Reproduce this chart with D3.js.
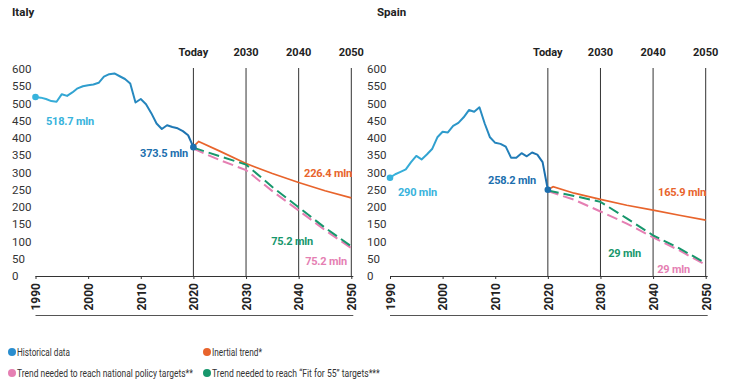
<!DOCTYPE html>
<html>
<head>
<meta charset="utf-8">
<script src="https://cdn.jsdelivr.net/npm/d3@7"></script>
<style>
    body { margin: 0; background: #fff; }
    svg { font-family: Roboto, "Noto Sans", sans-serif; }
</style>
</head>
<body>
<svg id="chart" width="731" height="385"></svg>
<script>
/* Chart values. */
const histYears = [1990, 1991, 1992, 1993, 1994, 1995, 1996, 1997, 1998, 1999, 2000, 2001, 2002, 2003, 2004, 2005,
    2006, 2007, 2008, 2009, 2010, 2011, 2012, 2013, 2014, 2015, 2016, 2017, 2018, 2019, 2020];
const italyHist = [518.7, 517, 513, 507, 505, 527, 522, 532, 544, 550, 553, 555, 560, 578, 585, 587,
    579, 571, 558, 503, 513, 498, 472, 442, 426, 437, 432, 428, 420, 408, 373.5];
const spainHist = [285, 295, 302, 309, 330, 348, 338, 352, 368, 402, 418, 416, 435, 444, 460, 481,
    476, 489, 442, 402, 386, 383, 375, 343, 343, 356, 347, 358, 352, 330, 250];

const inertialYears = [2020, 2021, 2025, 2030, 2035, 2040, 2045, 2050];
const italyInertial = [375, 390, 362, 326, 297, 271, 247, 226.4];
const spainInertial = [250, 259, 240, 222, 205, 191, 176, 162];

const targetYears = [2020, 2025, 2030, 2035, 2040, 2045, 2050];
const italyFit55 = [372, 347, 323, 258, 199, 140, 86];
const italyNational = [369, 336, 307, 246, 190, 133, 81];
const spainFit55 = [248, 232, 215, 167, 118, 80, 37];
const spainNational = [246, 221, 187, 152, 112, 74, 32];

const yTicks = [0, 50, 100, 150, 200, 250, 300, 350, 400, 450, 500, 550, 600];
const yearTicks = [1990, 2000, 2010, 2020, 2030, 2040, 2050];
const markerYears = [2020, 2030, 2040, 2050];
const markerNames = ['Today', '2030', '2040', '2050'];

const charts = [
    {name: 'Italy', hist: italyHist, inertial: italyInertial, fit55: italyFit55, national: italyNational,
        labels: ['518.7 mln', '373.5 mln', '226.4 mln', '75.2 mln', '75.2 mln']},
    {name: 'Spain', hist: spainHist, inertial: spainInertial, fit55: spainFit55, national: spainNational,
        labels: ['290 mln', '258.2 mln', '165.9 mln', '29 mln', '29 mln']}
];

const legendItems = [
    {text: 'Historical data', color: '#2a8dce', len: 53},
    {text: 'Inertial trend*', color: '#e8642c', len: 50},
    {text: 'Trend needed to reach national policy targets**', color: '#e57fb3', len: 176},
    {text: 'Trend needed to reach \u201cFit for 55\u201d targets***', color: '#17976c', len: 168}
];

/* Layout. */
const colors = {cyan: '#38b3dc', blue: '#1c6fae', orange: '#e8642c', green: '#17976c', pink: '#e57fb3', ink: '#222'};
const panels = [
    {left: 12, x0: 35.5, x1: 351.3},
    {left: 367, x0: 390, x1: 705.7}
];
const yTop = 69, yBase = 276;

const svg = d3.select('#chart');
const defs = svg.append('defs');

charts.forEach(function (c, i) {
    const p = panels[i];
    const g = svg.append('g');

    const x = d3.scaleLinear().domain([1990, 2050]).range([p.x0, p.x1]);
    const y = d3.scaleLinear().domain([0, 600]).range([yBase, yTop]);

    // Title.
    g.append('text').attr('x', i === 0 ? 12 : 377).attr('y', 16)
        .attr('font-size', 11.5).attr('font-weight', 700).attr('fill', colors.ink).text(c.name);

    // Y axis labels.
    const ya = g.append('g').attr('transform', 'translate(' + p.left + ',0)')
        .call(d3.axisLeft(y).tickValues(yTicks).tickSize(0));
    ya.select('.domain').remove();
    ya.selectAll('text').attr('x', 0).attr('text-anchor', 'start')
        .attr('font-size', 11.5).attr('font-family', 'Roboto, sans-serif').attr('fill', '#333');

    // Vertical markers and headers.
    g.selectAll('.marker').data(markerYears).enter().append('line')
        .attr('x1', d => x(d)).attr('x2', d => x(d))
        .attr('y1', yTop - 1).attr('y2', yBase)
        .attr('stroke', '#333').attr('stroke-width', 1);
    g.selectAll('.header').data(markerYears).enter().append('text')
        .attr('x', d => x(d)).attr('y', 56).attr('text-anchor', 'middle')
        .attr('font-size', 11).attr('font-weight', 700).attr('fill', colors.ink)
        .text((d, k) => markerNames[k]);

    // X axis.
    const xa = g.append('g').attr('transform', 'translate(0,' + yBase + ')')
        .call(d3.axisBottom(x).tickValues(yearTicks).tickSize(3).tickSizeOuter(0).tickFormat(d3.format('d')));
    xa.select('.domain').attr('stroke', '#333').attr('d', 'M' + p.x0 + ',0.5H' + (p.x1 + 2));
    xa.selectAll('.tick line').attr('stroke', '#333');
    xa.selectAll('text')
        .attr('transform', 'rotate(-90)').attr('text-anchor', 'end')
        .attr('x', -7).attr('y', 0).attr('dy', '0.36em')
        .attr('font-size', 12).attr('font-weight', 700).attr('font-family', 'Roboto, sans-serif').attr('fill', colors.ink);

    g.append('line').attr('x1', p.x0).attr('x2', p.x1 + 2).attr('y1', 315.5).attr('y2', 315.5)
        .attr('stroke', '#555').attr('stroke-width', 1);

    // Historical line with gradient.
    const gradId = 'hist' + i;
    const grad = defs.append('linearGradient').attr('id', gradId)
        .attr('gradientUnits', 'userSpaceOnUse')
        .attr('x1', x(1990)).attr('x2', x(2020)).attr('y1', 0).attr('y2', 0);
    grad.append('stop').attr('offset', 0).attr('stop-color', colors.cyan);
    grad.append('stop').attr('offset', 1).attr('stop-color', colors.blue);

    const line = d3.line().x(d => x(d[0])).y(d => y(d[1]));

    g.append('path').datum(d3.zip(histYears, c.hist)).attr('d', line)
        .attr('fill', 'none').attr('stroke', 'url(#' + gradId + ')').attr('stroke-width', 2)
        .attr('stroke-linejoin', 'round');

    g.append('path').datum(d3.zip(inertialYears, c.inertial)).attr('d', line)
        .attr('fill', 'none').attr('stroke', colors.orange).attr('stroke-width', 1.7);
    g.append('path').datum(d3.zip(targetYears, c.national)).attr('d', line)
        .attr('fill', 'none').attr('stroke', colors.pink).attr('stroke-width', 2)
        .attr('stroke-dasharray', '11,5');
    g.append('path').datum(d3.zip(targetYears, c.fit55)).attr('d', line)
        .attr('fill', 'none').attr('stroke', colors.green).attr('stroke-width', 2)
        .attr('stroke-dasharray', '11,5');

    // End dots.
    g.append('circle').attr('cx', x(histYears[0])).attr('cy', y(c.hist[0])).attr('r', 3.3).attr('fill', colors.cyan);
    g.append('circle').attr('cx', x(2020)).attr('cy', y(c.hist[c.hist.length - 1])).attr('r', 3.3).attr('fill', colors.blue);

    // Value labels.
    const lab = i === 0 ?
        [[46, 125, colors.cyan, 'start'], [188, 157, colors.blue, 'end'], [352, 177, colors.orange, 'end'],
            [313, 245, colors.green, 'end'], [347, 265, colors.pink, 'end']] :
        [[398, 196, colors.cyan, 'start'], [536, 184, colors.blue, 'end'], [706, 196, colors.orange, 'end'],
            [641, 257, colors.green, 'end'], [690, 273, colors.pink, 'end']];
    lab.forEach(function (l, k) {
        g.append('text').attr('x', l[0]).attr('y', l[1]).attr('text-anchor', l[3])
            .attr('font-size', 11).attr('font-weight', 700).attr('letter-spacing', -0.2)
            .attr('fill', l[2]).text(c.labels[k]);
    });
});

// Legend: the source font is very condensed, so squeeze each text to its width.
const legendPos = [[12, 352], [207, 352], [12, 373], [207, 373]];
legendItems.forEach(function (item, k) {
    const pos = legendPos[k];
    svg.append('circle').attr('cx', pos[0]).attr('cy', pos[1]).attr('r', 4).attr('fill', item.color);
    const t = svg.append('text').attr('x', 0).attr('y', 0)
        .attr('font-size', 10.5).attr('fill', '#333')
        .text(item.text);
    const sx = item.len / t.node().getComputedTextLength();
    t.attr('transform', 'translate(' + (pos[0] + 5) + ',' + (pos[1] + 4) + ') scale(' + sx + ',1)');
});
</script>
</body>
</html>
